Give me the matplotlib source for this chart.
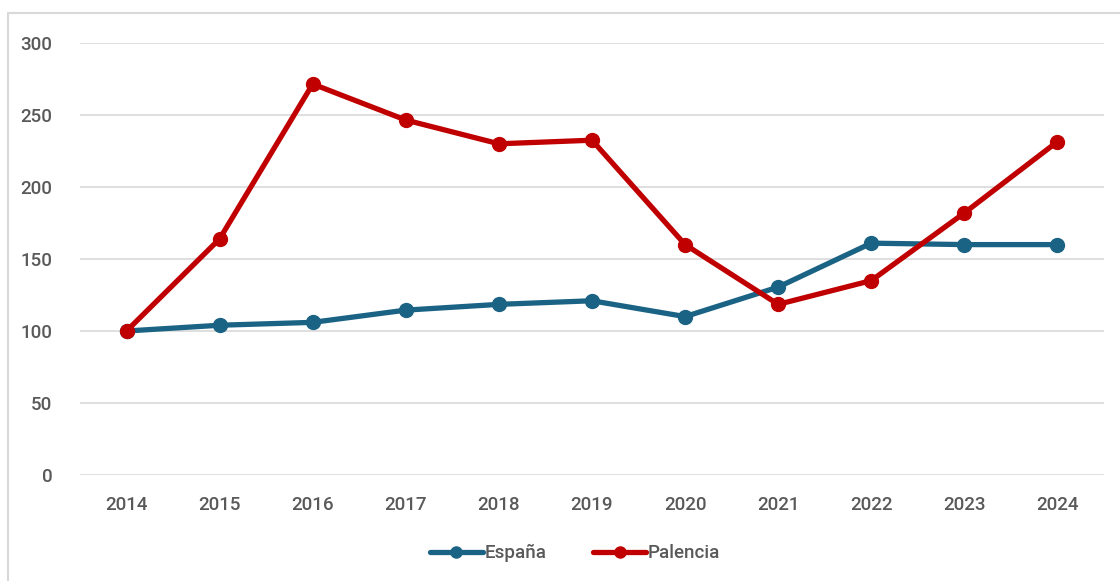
import matplotlib
matplotlib.use("Agg")
from matplotlib import pyplot as plt
from matplotlib.patches import Rectangle

# Chart data (index, 2014 = 100)
years = ["2014", "2015", "2016", "2017", "2018", "2019", "2020", "2021", "2022", "2023", "2024"]
espana = [100, 104, 106, 114.5, 118.5, 121, 110, 130.5, 161, 160, 160]
palencia = [100, 164, 271.5, 246.5, 230, 232.5, 160, 118.5, 135, 182, 231.5]

ESP_COLOR = "#1B6384"
PAL_COLOR = "#C00000"
TEXT_COLOR = "#595959"

def main():
	plt.rcParams['font.family'] = ['Roboto', 'DejaVu Sans']
	plt.rcParams['font.weight'] = 'medium'
	fig = plt.figure(figsize=(11.2, 5.81), dpi=100)
	ax = fig.add_axes([80/1120, 1 - 475/581, 1024/1120, 432/581])

	# outer chart border (cut off at right and bottom in the original)
	fig.patches.append(Rectangle((8/1120, -0.05), 1.2, 1 - 13/581 + 0.05,
		transform=fig.transFigure, fill=False, edgecolor="#D9D9D9", linewidth=1.5))

	x = range(len(years))
	ax.plot(x, espana, color=ESP_COLOR, linewidth=3.8, marker="o", markersize=10, label="España", solid_capstyle="round")
	ax.plot(x, palencia, color=PAL_COLOR, linewidth=3.8, marker="o", markersize=10, label="Palencia", solid_capstyle="round")

	ax.set_xlim(-0.5, len(years) - 0.5)
	ax.set_ylim(0, 300)
	ax.set_yticks(range(0, 301, 50))
	ax.set_xticks(list(x))
	ax.set_xticklabels(years)
	ax.grid(axis="y", color="#D9D9D9", linewidth=1.2)
	ax.set_axisbelow(True)
	for s in ax.spines.values():
		s.set_visible(False)
	ax.tick_params(length=0, labelsize=13.5, labelcolor=TEXT_COLOR)
	ax.tick_params(axis="y", pad=20)
	ax.tick_params(axis="x", pad=15)

	leg = fig.legend(loc="center", bbox_to_anchor=(575/1120, 1 - 553/581), ncol=2, frameon=False,
		fontsize=13.5, handlelength=2.8, columnspacing=2.5, handletextpad=0.1, markerscale=0.8)
	for t in leg.get_texts():
		t.set_color(TEXT_COLOR)

	fig.savefig("out.png", dpi=100)


if __name__ == "__main__":
	main()
